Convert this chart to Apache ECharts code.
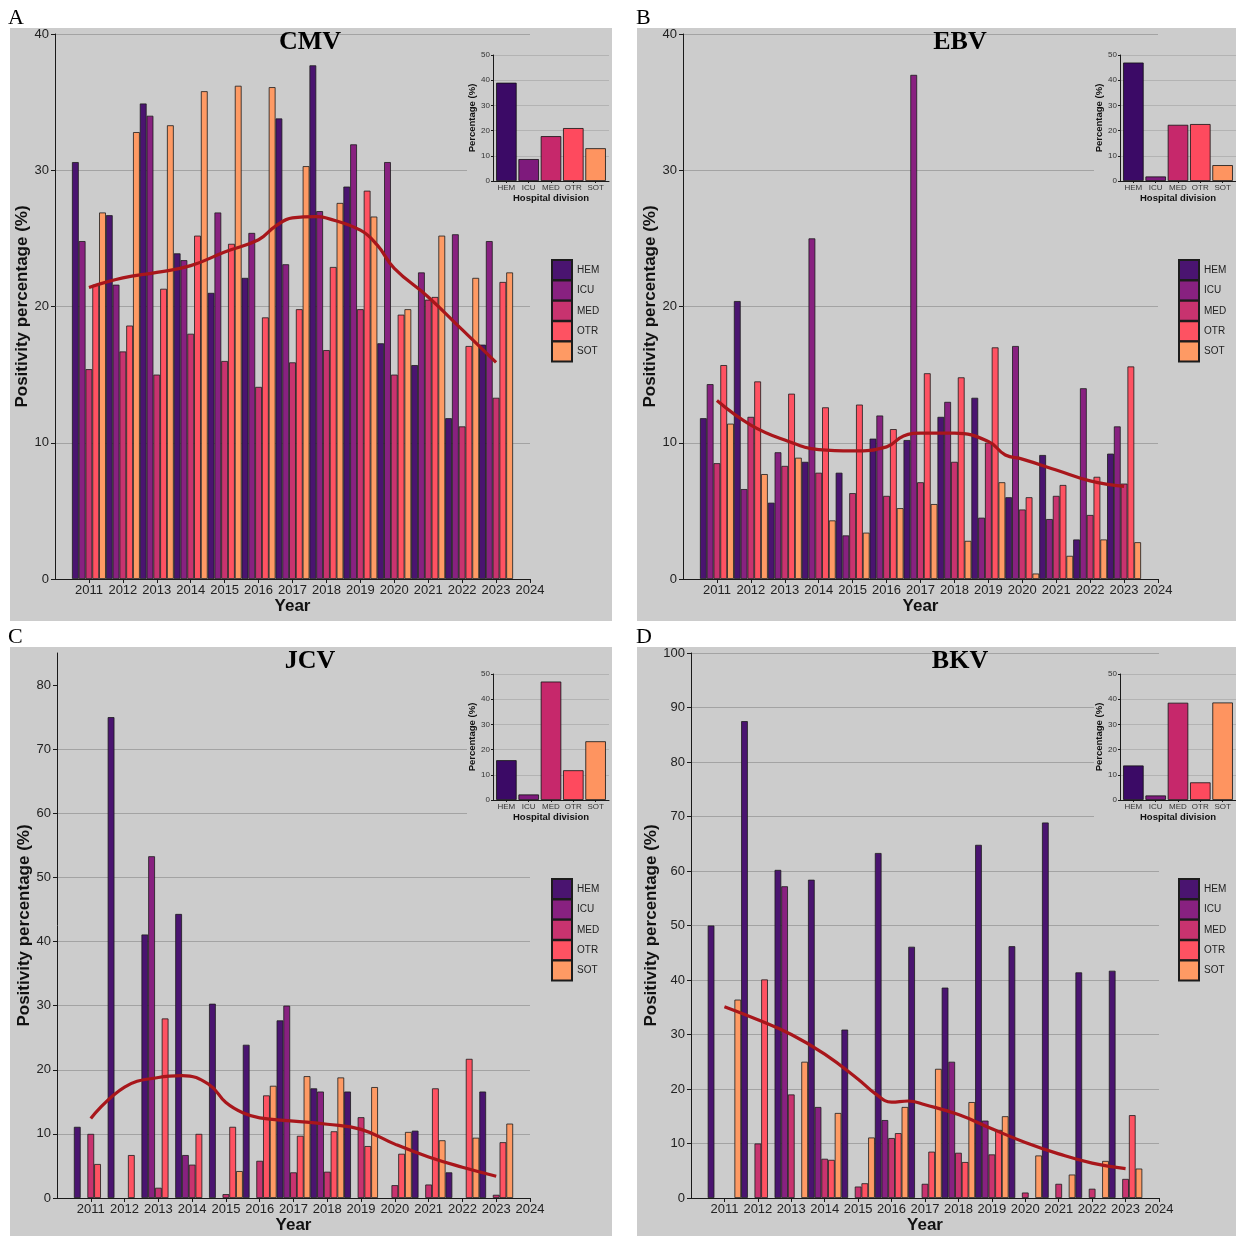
<!DOCTYPE html>
<html><head><meta charset="utf-8">
<script src="https://cdn.jsdelivr.net/npm/echarts@6/dist/echarts.min.js"></script>
<style>html,body{margin:0;padding:0;background:#fff}#c{width:1236px;height:1236px}</style>
</head><body><div id="c"></div>
<script>
// ---------- DATA ----------
const years = [2011,2012,2013,2014,2015,2016,2017,2018,2019,2020,2021,2022,2023];
const yearTicks = [2011,2012,2013,2014,2015,2016,2017,2018,2019,2020,2021,2022,2023,2024];
const divisions = ['HEM','ICU','MED','OTR','SOT'];
const yTicks40 = [0,10,20,30,40];
const yTicks80 = [0,10,20,30,40,50,60,70,80];
const yTicks100 = [0,10,20,30,40,50,60,70,80,90,100];
const insetTicks = [0,10,20,30,40,50];

// CMV
const cmvHEM = [30.6,26.7,34.9,23.9,21.0,22.1,33.8,37.7,28.8,17.3,15.7,11.8,17.2];
const cmvICU = [24.8,21.6,34.0,23.4,26.9,25.4,23.1,27.0,31.9,30.6,22.5,25.3,24.8];
const cmvMED = [15.4,16.7,15.0,18.0,16.0,14.1,15.9,16.8,19.8,15.0,20.5,11.2,13.3];
const cmvOTR = [21.6,18.6,21.3,25.2,24.6,19.2,19.8,22.9,28.5,19.4,20.7,17.1,21.8];
const cmvSOT = [26.9,32.8,33.3,35.8,36.2,36.1,30.3,27.6,26.6,19.8,25.2,22.1,22.5];
const cmvTrendX = [2011,2012,2013,2014,2015,2016,2016.5,2017,2017.7,2018,2019,2019.5,2020,2021,2022,2023];
const cmvTrendY = [21.4,22.1,22.5,23.0,24.0,24.9,25.9,26.5,26.6,26.5,25.6,24.5,22.8,20.7,18.3,15.9];
const cmvDivision = [39.0,8.7,17.8,21.0,13.0];

// EBV
const ebvHEM = [11.8,20.4,5.6,8.6,7.8,10.3,10.2,11.9,13.3,6.0,9.1,2.9,9.2];
const ebvICU = [14.3,6.6,9.3,25.0,3.2,12.0,37.0,13.0,4.5,17.1,4.4,14.0,11.2];
const ebvMED = [8.5,11.9,8.3,7.8,6.3,6.1,7.1,8.6,10.0,5.1,6.1,4.7,7.0];
const ebvOTR = [15.7,14.5,13.6,12.6,12.8,11.0,15.1,14.8,17.0,6.0,6.9,7.5,15.6];
const ebvSOT = [11.4,7.7,8.9,4.3,3.4,5.2,5.5,2.8,7.1,0.4,1.7,2.9,2.7];
const ebvTrendX = [2011,2012,2013,2014,2015,2016,2016.5,2017,2018,2019,2019.5,2020,2021,2022,2023];
const ebvTrendY = [13.1,11.3,10.2,9.5,9.4,9.7,10.5,10.7,10.7,10.1,9.1,8.8,8.0,7.2,6.8];
const ebvDivision = [47.0,1.8,22.3,22.6,6.3];

// JCV
const jcvHEM = [11.1,75.0,41.1,44.3,30.3,23.9,27.7,17.1,16.6,null,10.5,4.0,16.6];
const jcvICU = [null,null,53.3,6.7,null,null,30.0,16.6,null,null,null,null,null];
const jcvMED = [10.0,null,1.6,5.2,0.6,5.8,4.0,4.1,12.6,2.0,2.1,null,0.5];
const jcvOTR = [5.3,6.7,28.0,10.0,11.1,16.0,9.7,10.4,8.1,6.9,17.1,21.7,8.7];
const jcvSOT = [null,null,null,null,4.2,17.5,19.0,18.8,17.3,10.3,9.0,9.4,11.6];
const jcvTrendX = [2011,2012,2013,2013.7,2014.5,2015,2015.5,2016,2017,2018,2019,2020,2021,2022,2023];
const jcvTrendY = [12.4,17.3,18.8,19.1,17.7,14.9,13.3,12.5,12.0,11.5,10.7,8.4,6.4,4.8,3.4];
const jcvDivision = [15.8,2.2,47.0,11.8,23.3];

// BKV
const bkvHEM = [50.0,87.5,60.2,58.4,30.9,63.3,46.1,38.6,64.8,46.2,68.9,41.4,41.7];
const bkvICU = [null,null,57.2,16.7,null,14.3,null,25.0,14.2,null,null,null,null];
const bkvMED = [null,10.0,19.0,7.2,2.1,11.0,2.6,8.3,8.0,1.0,2.6,1.7,3.5];
const bkvOTR = [null,40.1,null,7.0,2.7,11.9,8.5,6.6,12.5,null,null,null,15.2];
const bkvSOT = [36.4,null,25.0,15.6,11.1,16.7,23.7,17.6,15.0,7.8,4.3,6.8,5.4];
const bkvTrendX = [2011,2012,2013,2014,2015,2015.5,2016,2016.5,2017,2018,2019,2020,2021,2022,2023];
const bkvTrendY = [35.1,32.7,30.0,26.4,21.8,19.2,17.6,17.8,17.1,15.3,12.7,10.2,8.1,6.4,5.4];
const bkvDivision = [13.7,1.8,38.6,7.0,38.7];

// ---------- STYLE / LAYOUT ----------
const barColors = ['#4a1470','#882180','#c8336f','#fe5262','#fe9a64'];
const insetColors = ['#3b0a66','#7e1a7c','#c6286b','#fe4a5e','#fe9460'];
const SANS = 'Liberation Sans';
const SERIF = 'Liberation Serif';
const BG = '#cccccc';

const panels = [
  {letter:'A', title:'CMV', bg:[10,28,602,593], grid:{left:55,top:34,width:475,height:545},
   yMax:40, yTicks:yTicks40, nameGap:23, inset:{left:493,top:55}, insetBg:[467,44,145,166],
   legend:{left:551,top:259}, tx:310, ty:42, lx:8, ly:7,
   vals:[cmvHEM,cmvICU,cmvMED,cmvOTR,cmvSOT], trX:cmvTrendX, trY:cmvTrendY, div:cmvDivision},
  {letter:'B', title:'EBV', bg:[637,28,599,593], grid:{left:683,top:34,width:475,height:545},
   yMax:40, yTicks:yTicks40, nameGap:23, inset:{left:1120,top:55}, insetBg:[1094,44,142,166],
   legend:{left:1178,top:259}, tx:960, ty:42, lx:636, ly:7,
   vals:[ebvHEM,ebvICU,ebvMED,ebvOTR,ebvSOT], trX:ebvTrendX, trY:ebvTrendY, div:ebvDivision},
  {letter:'C', title:'JCV', bg:[10,647,602,589], grid:{left:57,top:653,width:473,height:545},
   yMax:85, yTicks:yTicks80, nameGap:24, inset:{left:493,top:674}, insetBg:[467,663,145,166],
   legend:{left:551,top:878}, tx:310, ty:661, lx:8, ly:626,
   vals:[jcvHEM,jcvICU,jcvMED,jcvOTR,jcvSOT], trX:jcvTrendX, trY:jcvTrendY, div:jcvDivision},
  {letter:'D', title:'BKV', bg:[637,647,599,589], grid:{left:691,top:653,width:468,height:545},
   yMax:100, yTicks:yTicks100, nameGap:30, inset:{left:1120,top:674}, insetBg:[1094,663,142,166],
   legend:{left:1178,top:878}, tx:960, ty:661, lx:636, ly:626,
   vals:[bkvHEM,bkvICU,bkvMED,bkvOTR,bkvSOT], trX:bkvTrendX, trY:bkvTrendY, div:bkvDivision}
];

const grid = [], xAxis = [], yAxis = [], series = [], legend = [], graphic = [];
const axisLineStyle = {color:'#1a1a1a', width:1};

panels.forEach((p, i) => {
  graphic.push({type:'rect', z:-10, shape:{x:p.bg[0], y:p.bg[1], width:p.bg[2], height:p.bg[3]}, style:{fill:BG}});
  graphic.push({type:'rect', z:5, shape:{x:p.insetBg[0], y:p.insetBg[1], width:p.insetBg[2], height:p.insetBg[3]}, style:{fill:BG}});
  graphic.push({type:'text', z:10, style:{text:p.title, x:p.tx, y:p.ty, align:'center', verticalAlign:'middle',
    font:'bold 26px "' + SERIF + '"', fill:'#000'}});
  graphic.push({type:'text', z:10, style:{text:p.letter, x:p.lx, y:p.ly, align:'left', verticalAlign:'top',
    font:'22px "' + SERIF + '"', fill:'#000'}});

  grid.push(Object.assign({}, p.grid));
  xAxis.push({type:'value', gridIndex:i, min:2010, max:2024, interval:1,
    axisLine:{show:true, onZero:false, lineStyle:axisLineStyle},
    axisTick:{show:true, length:4, customValues:yearTicks, lineStyle:axisLineStyle},
    axisLabel:{customValues:yearTicks, formatter:v=>String(v), color:'#222', fontSize:13, fontFamily:SANS, margin:5},
    splitLine:{show:false},
    name:'Year', nameLocation:'middle', nameGap:19,
    nameTextStyle:{fontWeight:'bold', fontSize:17, color:'#111', fontFamily:SANS}});
  yAxis.push({type:'value', gridIndex:i, min:0, max:p.yMax, interval:10,
    axisLine:{show:true, onZero:false, lineStyle:axisLineStyle},
    axisTick:{show:true, length:4, customValues:p.yTicks, lineStyle:axisLineStyle},
    axisLabel:{customValues:p.yTicks, color:'#222', fontSize:13, fontFamily:SANS, margin:6},
    splitLine:{show:true, showMinLine:false, showMaxLine:(p.yTicks[p.yTicks.length-1]===p.yMax), lineStyle:{color:'#a3a3a3', width:1}},
    name:'Positivity percentage (%)', nameLocation:'middle', nameGap:p.nameGap,
    nameTextStyle:{fontWeight:'bold', fontSize:17, color:'#111', fontFamily:SANS}});

  divisions.forEach((d, k) => {
    series.push({type:'bar', name:d, xAxisIndex:i, yAxisIndex:i, z:2,
      data: years.map((y, j) => [y, p.vals[k][j]]),
      barGap:'0%', barCategoryGap:'0%',
      itemStyle:{color:barColors[k], borderColor:'#1c1c1c', borderWidth:0.8}});
  });
  series.push({type:'line', name:'trend', xAxisIndex:i, yAxisIndex:i, z:3,
    data: p.trX.map((x, j) => [x, p.trY[j]]), smooth:0.45, symbol:'none', showSymbol:false,
    lineStyle:{color:'#a8161b', width:3.2}});

  legend.push({orient:'vertical', left:p.legend.left, top:p.legend.top, padding:0, itemWidth:20, itemHeight:20, itemGap:-1.6,
    icon:'rect', data:divisions, textStyle:{fontSize:10, color:'#222', fontFamily:SANS}, selectedMode:false});
});

// insets
panels.forEach((p, i) => {
  const gi = 4 + i;
  grid.push({left:p.inset.left, top:p.inset.top, width:116, height:126});
  xAxis.push({type:'value', gridIndex:gi, min:-0.6, max:4.6, z:6,
    axisLine:{show:true, onZero:false, lineStyle:axisLineStyle},
    axisTick:{show:true, length:2, customValues:[0,1,2,3,4], lineStyle:axisLineStyle},
    axisLabel:{customValues:[0,1,2,3,4], formatter:v=>divisions[Math.round(v)], color:'#333', fontSize:8, fontFamily:SANS, margin:3},
    splitLine:{show:false},
    name:'Hospital division', nameLocation:'middle', nameGap:12,
    nameTextStyle:{fontWeight:'bold', fontSize:9.5, color:'#111', fontFamily:SANS}});
  yAxis.push({type:'value', gridIndex:gi, min:0, max:50, interval:10, z:6,
    axisLine:{show:true, onZero:false, lineStyle:axisLineStyle},
    axisTick:{show:true, length:2, customValues:insetTicks, lineStyle:axisLineStyle},
    axisLabel:{customValues:insetTicks, color:'#333', fontSize:8, fontFamily:SANS, margin:3},
    splitLine:{show:true, showMinLine:false, lineStyle:{color:'#b3b3b3', width:1}},
    name:'Percentage (%)', nameLocation:'middle', nameGap:14,
    nameTextStyle:{fontWeight:'bold', fontSize:9.5, color:'#111', fontFamily:SANS}});
  series.push({type:'bar', name:'inset'+i, xAxisIndex:gi, yAxisIndex:gi, z:7, barWidth:'92%',
    data: divisions.map((d, k) => ({value:[k, p.div[k]], itemStyle:{color:insetColors[k]}})),
    itemStyle:{borderColor:'#111', borderWidth:0.8}});
});

const chart = echarts.init(document.getElementById('c'), null, {renderer:'canvas'});
chart.setOption({animation:false, backgroundColor:'#ffffff', grid, xAxis, yAxis, series, legend, graphic});
</script>
</body></html>
